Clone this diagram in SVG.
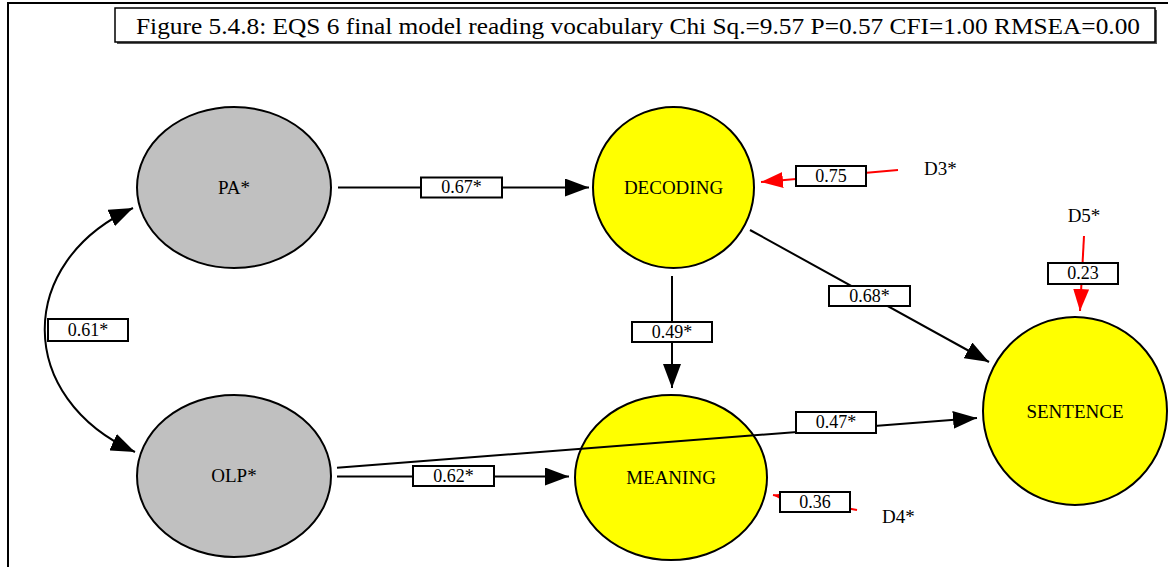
<svg xmlns="http://www.w3.org/2000/svg" width="1168" height="567" viewBox="0 0 1168 567">
  <style>
    .frame { stroke: #000; stroke-width: 2; fill: none; }
    .node-grey { fill: #c0c0c0; stroke: #000; stroke-width: 2; }
    .node-yellow { fill: #ffff00; stroke: #000; stroke-width: 2; }
    .node-text { font-family: "Liberation Serif", "Times New Roman", serif; font-size: 19px; fill: #000; text-anchor: middle; }
    .err-text { font-family: "Liberation Serif", "Times New Roman", serif; font-size: 19px; fill: #000; }
    .path { stroke: #000; stroke-width: 2; fill: none; marker-end: url(#head-black); }
    .err-path { stroke: #ff0000; stroke-width: 2; fill: none; marker-end: url(#head-red); }
    .coef-box { fill: #fff; stroke: #000; stroke-width: 2; }
    .coef-text { font-family: "Liberation Serif", "Times New Roman", serif; font-size: 18px; fill: #000; text-anchor: middle; }
    .title-text { font-family: "Liberation Serif", "Times New Roman", serif; font-size: 24px; fill: #000; }
  </style>
  <defs>
    <marker id="head-black" markerUnits="userSpaceOnUse" markerWidth="24" markerHeight="18" refX="24" refY="9" orient="auto-start-reverse">
      <path d="M0,0 L24,9 L0,18 Z" fill="#000"/>
    </marker>
    <marker id="head-red" markerUnits="userSpaceOnUse" markerWidth="22" markerHeight="16" refX="22" refY="8" orient="auto">
      <path d="M0,0 L22,8 L0,16 Z" fill="#ff0000"/>
    </marker>
  </defs>

  <rect width="1168" height="567" fill="#fff"/>

  <!-- page frame -->
  <path class="frame" d="M8,567 L8,3 L1168,3"/>

  <!-- title box with drop shadow -->
  <g id="title">
    <rect x="117" y="10" width="1040" height="34" fill="#555"/>
    <rect x="115" y="8" width="1040" height="34" fill="#fff" stroke="#000" stroke-width="1.5"/>
    <text class="title-text" x="136" y="33.5" textLength="1004" lengthAdjust="spacingAndGlyphs">Figure 5.4.8:  EQS 6 final model reading vocabulary Chi Sq.=9.57 P=0.57 CFI=1.00 RMSEA=0.00</text>
  </g>

  <!-- latent variables -->
  <g id="node-pa">
    <ellipse class="node-grey" cx="234" cy="187.5" rx="97" ry="80.5"/>
    <text class="node-text" x="234" y="193.5">PA*</text>
  </g>
  <g id="node-olp">
    <ellipse class="node-grey" cx="234" cy="476" rx="97" ry="81"/>
    <text class="node-text" x="234" y="482">OLP*</text>
  </g>
  <g id="node-decoding">
    <ellipse class="node-yellow" cx="673.5" cy="187.5" rx="80.5" ry="80.5"/>
    <text class="node-text" x="673.5" y="193.5">DECODING</text>
  </g>
  <g id="node-meaning">
    <ellipse class="node-yellow" cx="671" cy="477.5" rx="96" ry="82.5"/>
    <text class="node-text" x="671" y="484">MEANING</text>
  </g>
  <g id="node-sentence">
    <ellipse class="node-yellow" cx="1075" cy="411" rx="92" ry="94"/>
    <text class="node-text" x="1075" y="418">SENTENCE</text>
  </g>

  <!-- disturbance labels -->
  <g id="node-d3"><text class="err-text" x="924" y="175">D3*</text></g>
  <g id="node-d4"><text class="err-text" x="882" y="523">D4*</text></g>
  <g id="node-d5"><text class="err-text" x="1084" y="222" text-anchor="middle">D5*</text></g>

  <!-- paths and coefficients -->
  <g id="connectors">
    <path class="path" d="M133,208 C15,262 15,398 135,452" marker-start="url(#head-black)"/>
    <path class="path" d="M338,187.5 L589,187.5"/>
    <path class="path" d="M672,276 L672,388"/>
    <path class="path" d="M750,230 L989,362"/>
    <path class="path" d="M337,467.7 L977,418"/>
    <path class="path" d="M337,476.5 L569,476.5"/>
    <path class="err-path" d="M898,170 L761,182"/>
    <path class="err-path" d="M1084,236 L1080,311"/>
    <path class="err-path" d="M857,510 L773,495"/>

    <rect class="coef-box" x="48" y="319" width="80" height="22"/>
    <text class="coef-text" x="88" y="335.5">0.61*</text>
    <rect class="coef-box" x="421" y="177.5" width="81" height="20"/>
    <text class="coef-text" x="461.5" y="193">0.67*</text>
    <rect class="coef-box" x="632" y="322" width="80" height="20"/>
    <text class="coef-text" x="672" y="337.5">0.49*</text>
    <rect class="coef-box" x="829" y="286" width="81" height="20"/>
    <text class="coef-text" x="869.5" y="301.5">0.68*</text>
    <rect class="coef-box" x="796" y="412" width="80" height="21"/>
    <text class="coef-text" x="836" y="428">0.47*</text>
    <rect class="coef-box" x="413" y="466" width="81" height="20"/>
    <text class="coef-text" x="453.5" y="481.5">0.62*</text>
    <rect class="coef-box" x="796" y="166" width="70" height="20"/>
    <text class="coef-text" x="831" y="181.5">0.75</text>
    <rect class="coef-box" x="1048" y="263" width="70" height="21"/>
    <text class="coef-text" x="1083" y="279">0.23</text>
    <rect class="coef-box" x="780" y="492" width="70" height="20"/>
    <text class="coef-text" x="815" y="507.5">0.36</text>
  </g>
</svg>
